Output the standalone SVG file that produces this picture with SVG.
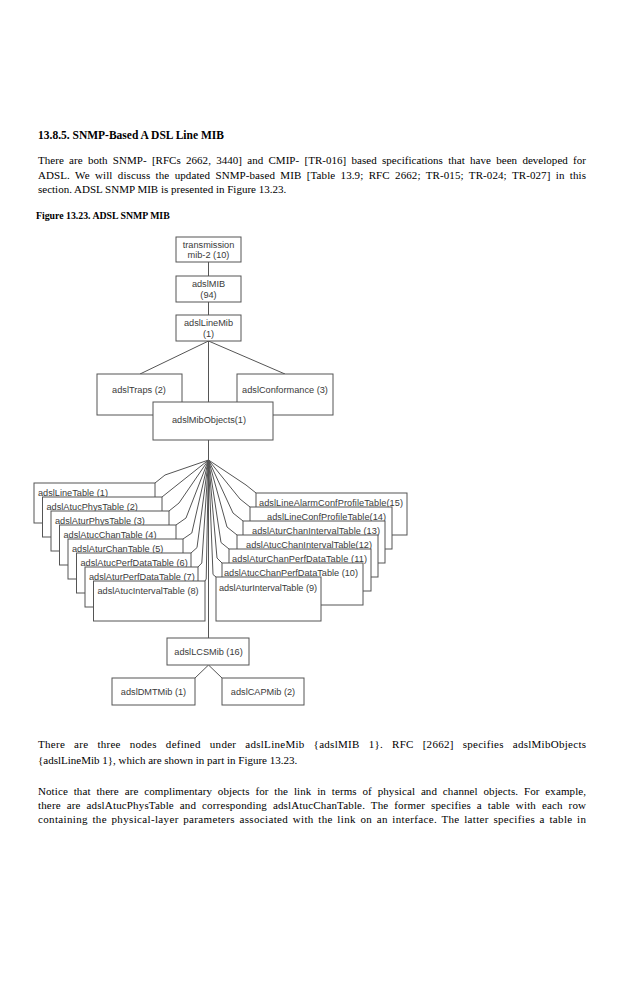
<svg xmlns="http://www.w3.org/2000/svg" width="638" height="984" viewBox="0 0 638 984">
<style>
.bg{fill:#fff}
.box{fill:#fff;stroke:#555;stroke-width:1}
.conn{fill:none;stroke:#555;stroke-width:1}
.lbl{font-family:"Liberation Sans",Arial,sans-serif;font-size:9.2px;fill:#3a3a3a}
.c{text-anchor:middle}
.body{font-family:"Liberation Serif","Times New Roman",serif;font-size:11px;fill:#000}
.head{font-family:"Liberation Serif","Times New Roman",serif;font-size:11.5px;font-weight:bold;fill:#000}
.cap{font-family:"Liberation Serif","Times New Roman",serif;font-size:9.8px;font-weight:bold;fill:#000}
</style>
<rect class="bg" x="0" y="0" width="638" height="984"/>

<g id="text-top">
<text class="head" x="38" y="139">13.8.5. SNMP-Based A DSL Line MIB</text>
<text class="body" x="38" y="164" word-spacing="2.5" textLength="548" lengthAdjust="spacing">There are both SNMP- [RFCs 2662, 3440] and CMIP- [TR-016] based specifications that have been developed for</text>
<text class="body" x="38" y="178.5" word-spacing="2.5" textLength="548" lengthAdjust="spacing">ADSL. We will discuss the updated SNMP-based MIB [Table 13.9; RFC 2662; TR-015; TR-024; TR-027] in this</text>
<text class="body" x="38" y="193">section. ADSL SNMP MIB is presented in Figure 13.23.</text>
<text class="cap" x="36" y="219">Figure 13.23. ADSL SNMP MIB</text>
</g>

<g id="connectors">
<line class="conn" x1="208.5" y1="262" x2="208.5" y2="276"/>
<line class="conn" x1="208.5" y1="302" x2="208.5" y2="315"/>
<line class="conn" x1="208.5" y1="341" x2="140" y2="374"/>
<line class="conn" x1="208.5" y1="341" x2="285" y2="374"/>
<line class="conn" x1="208.5" y1="341" x2="208.5" y2="402"/>
<line class="conn" x1="208.5" y1="440" x2="208.5" y2="460"/>
<line class="conn" x1="208.5" y1="460" x2="208.5" y2="638"/>
<polyline class="conn" points="208.5,460 165,475 155,483"/>
<polyline class="conn" points="208.5,460 172,489 162,497"/>
<polyline class="conn" points="208.5,460 179,503 169,511"/>
<polyline class="conn" points="208.5,460 186,518 176,525"/>
<polyline class="conn" points="208.5,460 191.8,533 183,539"/>
<polyline class="conn" points="208.5,460 197,547.6 191,553"/>
<polyline class="conn" points="208.5,460 201.8,563 198,567"/>
<polyline class="conn" points="208.5,460 206.2,579 205,581"/>
<polyline class="conn" points="208.5,460 246,485 256,493"/>
<polyline class="conn" points="208.5,460 240,499 250,507"/>
<polyline class="conn" points="208.5,460 233,513 243,521"/>
<polyline class="conn" points="208.5,460 227,527 237,535"/>
<polyline class="conn" points="208.5,460 221,542.5 229,549"/>
<polyline class="conn" points="208.5,460 217,558 222,563"/>
<polyline class="conn" points="208.5,460 213,574.5 216,577"/>
<line class="conn" x1="208.5" y1="665" x2="195" y2="678"/>
<line class="conn" x1="208.5" y1="665" x2="222" y2="678"/>
</g>

<g id="n-transmission"><rect class="box" x="176" y="237" width="65" height="25"/><text class="lbl c" x="208.5" y="247.5">transmission</text><text class="lbl c" x="208.5" y="258">mib-2 (10)</text></g>
<g id="n-adslMIB"><rect class="box" x="176" y="276" width="65" height="26"/><text class="lbl c" x="208.5" y="287">adslMIB</text><text class="lbl c" x="208.5" y="297.5">(94)</text></g>
<g id="n-adslLineMib"><rect class="box" x="176" y="315" width="65" height="26"/><text class="lbl c" x="208.5" y="326">adslLineMib</text><text class="lbl c" x="208.5" y="336.5">(1)</text></g>
<g id="n-adslTraps"><rect class="box" x="97" y="374" width="85" height="41"/><text class="lbl c" x="139" y="393">adslTraps (2)</text></g>
<g id="n-adslConformance"><rect class="box" x="237" y="374" width="96" height="41"/><text class="lbl c" x="285" y="393">adslConformance (3)</text></g>
<g id="n-adslMibObjects"><rect class="box" x="153" y="402" width="120" height="38"/><text class="lbl c" x="209" y="423">adslMibObjects(1)</text></g>

<g id="n-t1"><rect class="box" x="34" y="483" width="121" height="40"/><text class="lbl" x="38" y="496">adslLineTable (1)</text></g>
<g id="n-t2"><rect class="box" x="42.5" y="497" width="119.5" height="40"/><text class="lbl" x="46.5" y="510">adslAtucPhysTable (2)</text></g>
<g id="n-t3"><rect class="box" x="51" y="511" width="118" height="40"/><text class="lbl" x="55" y="524">adslAturPhysTable (3)</text></g>
<g id="n-t4"><rect class="box" x="59.5" y="525" width="116.5" height="40"/><text class="lbl" x="63.5" y="538">adslAtucChanTable (4)</text></g>
<g id="n-t5"><rect class="box" x="68" y="539" width="115" height="40"/><text class="lbl" x="72" y="552">adslAturChanTable (5)</text></g>
<g id="n-t6"><rect class="box" x="76.5" y="553" width="114.5" height="40"/><text class="lbl" x="80.5" y="566">adslAtucPerfDataTable (6)</text></g>
<g id="n-t7"><rect class="box" x="85" y="567" width="113" height="40"/><text class="lbl" x="89" y="580">adslAturPerfDataTable (7)</text></g>
<g id="n-t8"><rect class="box" x="93.5" y="581" width="111.5" height="40"/><text class="lbl" x="97.5" y="594">adslAtucIntervalTable (8)</text></g>

<g id="n-t15"><rect class="box" x="256" y="493" width="151" height="42"/><text class="lbl" x="259" y="505.5" textLength="144" lengthAdjust="spacing">adslLineAlarmConfProfileTable(15)</text></g>
<g id="n-t14"><rect class="box" x="250" y="507" width="142" height="42"/><text class="lbl" x="267" y="519.5" textLength="119" lengthAdjust="spacing">adslLineConfProfileTable(14)</text></g>
<g id="n-t13"><rect class="box" x="243" y="521" width="142" height="42"/><text class="lbl" x="252" y="533.5" textLength="128" lengthAdjust="spacing">adslAturChanIntervalTable (13)</text></g>
<g id="n-t12"><rect class="box" x="237" y="535" width="141" height="42"/><text class="lbl" x="246" y="547.5" textLength="126" lengthAdjust="spacing">adslAtucChanIntervalTable(12)</text></g>
<g id="n-t11"><rect class="box" x="229" y="549" width="142" height="42"/><text class="lbl" x="232" y="561.5" textLength="135" lengthAdjust="spacing">adslAturChanPerfDataTable (11)</text></g>
<g id="n-t10"><rect class="box" x="222" y="563" width="141" height="42"/><text class="lbl" x="224" y="575.5" textLength="134" lengthAdjust="spacing">adslAtucChanPerfDataTable (10)</text></g>
<g id="n-t9"><rect class="box" x="216" y="577" width="105" height="44"/><text class="lbl" x="219" y="590.5" textLength="98" lengthAdjust="spacing">adslAturIntervalTable (9)</text></g>

<g id="n-adslLCSMib"><rect class="box" x="167" y="638" width="82" height="27"/><text class="lbl c" x="208.5" y="655">adslLCSMib (16)</text></g>
<g id="n-adslDMTMib"><rect class="box" x="112" y="678" width="83" height="27"/><text class="lbl c" x="153.5" y="695">adslDMTMib (1)</text></g>
<g id="n-adslCAPMib"><rect class="box" x="222" y="678" width="82" height="27"/><text class="lbl c" x="263" y="695">adslCAPMib (2)</text></g>

<g id="text-bottom">
<text class="body" x="38" y="748" word-spacing="6" textLength="548" lengthAdjust="spacing">There are three nodes defined under adslLineMib {adslMIB 1}. RFC [2662] specifies adslMibObjects</text>
<text class="body" x="38" y="764">{adslLineMib 1}, which are shown in part in Figure 13.23.</text>
<text class="body" x="38" y="795" word-spacing="3" textLength="548" lengthAdjust="spacing">Notice that there are complimentary objects for the link in terms of physical and channel objects. For example,</text>
<text class="body" x="38" y="809" word-spacing="3" textLength="548" lengthAdjust="spacing">there are adslAtucPhysTable and corresponding adslAtucChanTable. The former specifies a table with each row</text>
<text class="body" x="38" y="823" word-spacing="1.5" textLength="548" lengthAdjust="spacing">containing the physical-layer parameters associated with the link on an interface. The latter specifies a table in</text>
</g>
</svg>
